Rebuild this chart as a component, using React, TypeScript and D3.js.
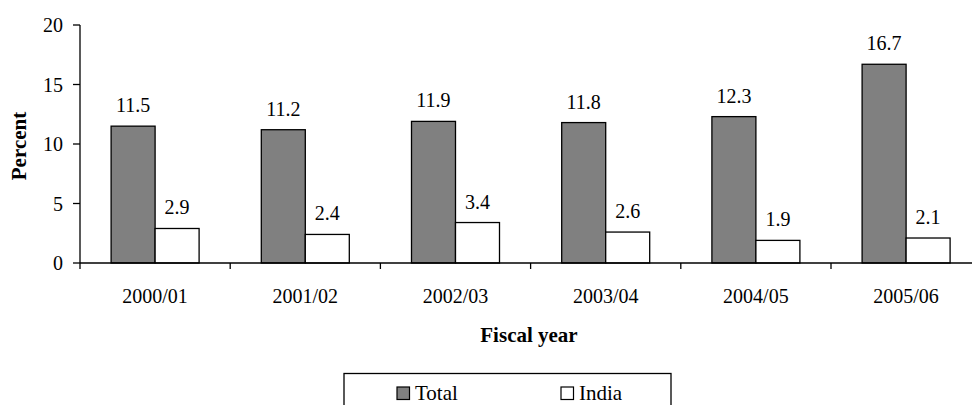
import React from "react";
import * as d3 from "d3";

const years = ["2000/01", "2001/02", "2002/03", "2003/04", "2004/05", "2005/06"];
const totalValues = [11.5, 11.2, 11.9, 11.8, 12.3, 16.7];
const indiaValues = [2.9, 2.4, 3.4, 2.6, 1.9, 2.1];
const seriesNames = ["Total", "India"];
const seriesFills = ["#808080", "#ffffff"];
const yTicks = [0, 5, 10, 15, 20];

const W = 972;
const H = 405;
const plotLeft = 80;
const plotTop = 25;
const plotBottom = 263;
const bandWidth = 150.2;
const plotRight = plotLeft + bandWidth * years.length;
const FONT = '"Liberation Serif", "Times New Roman", serif';
const FS = 20;
const FS_TITLE = 21;

export default function App() {
  const x = d3.scaleBand<string>().domain(years).range([plotLeft, plotRight]).paddingInner(0).paddingOuter(0);
  const y = d3.scaleLinear().domain([0, 20]).range([plotBottom, plotTop]);
  const barW = 44;
  const groupOffset = (x.bandwidth() - 2 * barW) / 2;
  const series = [totalValues, indiaValues];
  const txt = { fontFamily: FONT, fontSize: FS };
  const title = { fontFamily: FONT, fontSize: FS_TITLE, fontWeight: "bold" as const };

  return (
    <svg
      width={W}
      height={H}
      style={{ position: "absolute", left: 0, top: 0, background: "#fff", fontFamily: FONT }}
    >
      {/* bars with value labels */}
      {years.map((yr, i) => (
        <g key={yr}>
          {series.map((vals, s) => {
            const bx = (x(yr) as number) + groupOffset + s * barW;
            const by = y(vals[i]);
            return (
              <g key={s}>
                <rect
                  x={bx}
                  y={by}
                  width={barW}
                  height={plotBottom - by}
                  fill={seriesFills[s]}
                  stroke="#000"
                  strokeWidth={1.3}
                />
                <text x={bx + barW / 2} y={by - 14} textAnchor="middle" style={txt} fill="#000">
                  {vals[i].toFixed(1)}
                </text>
              </g>
            );
          })}
        </g>
      ))}

      {/* y axis */}
      <line x1={plotLeft} x2={plotLeft} y1={plotTop} y2={plotBottom} stroke="#000" strokeWidth={1.3} />
      {yTicks.map((t) => (
        <g key={t}>
          <line x1={plotLeft - 7} x2={plotLeft} y1={y(t)} y2={y(t)} stroke="#000" strokeWidth={1.3} />
          <text x={plotLeft - 17} y={y(t) + 7} textAnchor="end" style={txt} fill="#000">
            {t}
          </text>
        </g>
      ))}

      {/* x axis */}
      <line x1={plotLeft} x2={plotRight} y1={plotBottom} y2={plotBottom} stroke="#000" strokeWidth={1.3} />
      {d3.range(years.length + 1).map((k) => (
        <line
          key={k}
          x1={plotLeft + k * bandWidth}
          x2={plotLeft + k * bandWidth}
          y1={plotBottom}
          y2={plotBottom + 6}
          stroke="#000"
          strokeWidth={1.3}
        />
      ))}
      {years.map((yr) => (
        <text
          key={yr}
          x={(x(yr) as number) + x.bandwidth() / 2}
          y={303}
          textAnchor="middle"
          style={txt}
          fill="#000"
        >
          {yr}
        </text>
      ))}

      {/* axis titles */}
      <text transform={`translate(26, 146) rotate(-90)`} textAnchor="middle" style={title} fill="#000">
        Percent
      </text>
      <text x={529} y={342} textAnchor="middle" style={title} fill="#000">
        Fiscal year
      </text>

      {/* legend */}
      <rect x={344} y={373.5} width={327} height={40} fill="#fff" stroke="#000" strokeWidth={1.3} />
      {seriesNames.map((name, s) => {
        const lx = s === 0 ? 397 : 561;
        return (
          <g key={name}>
            <rect x={lx} y={387} width={12.5} height={12.5} fill={seriesFills[s]} stroke="#000" strokeWidth={1.2} />
            <text x={lx + 18} y={399.5} style={{ ...txt, fontSize: 21 }} fill="#000">
              {name}
            </text>
          </g>
        );
      })}
    </svg>
  );
}
